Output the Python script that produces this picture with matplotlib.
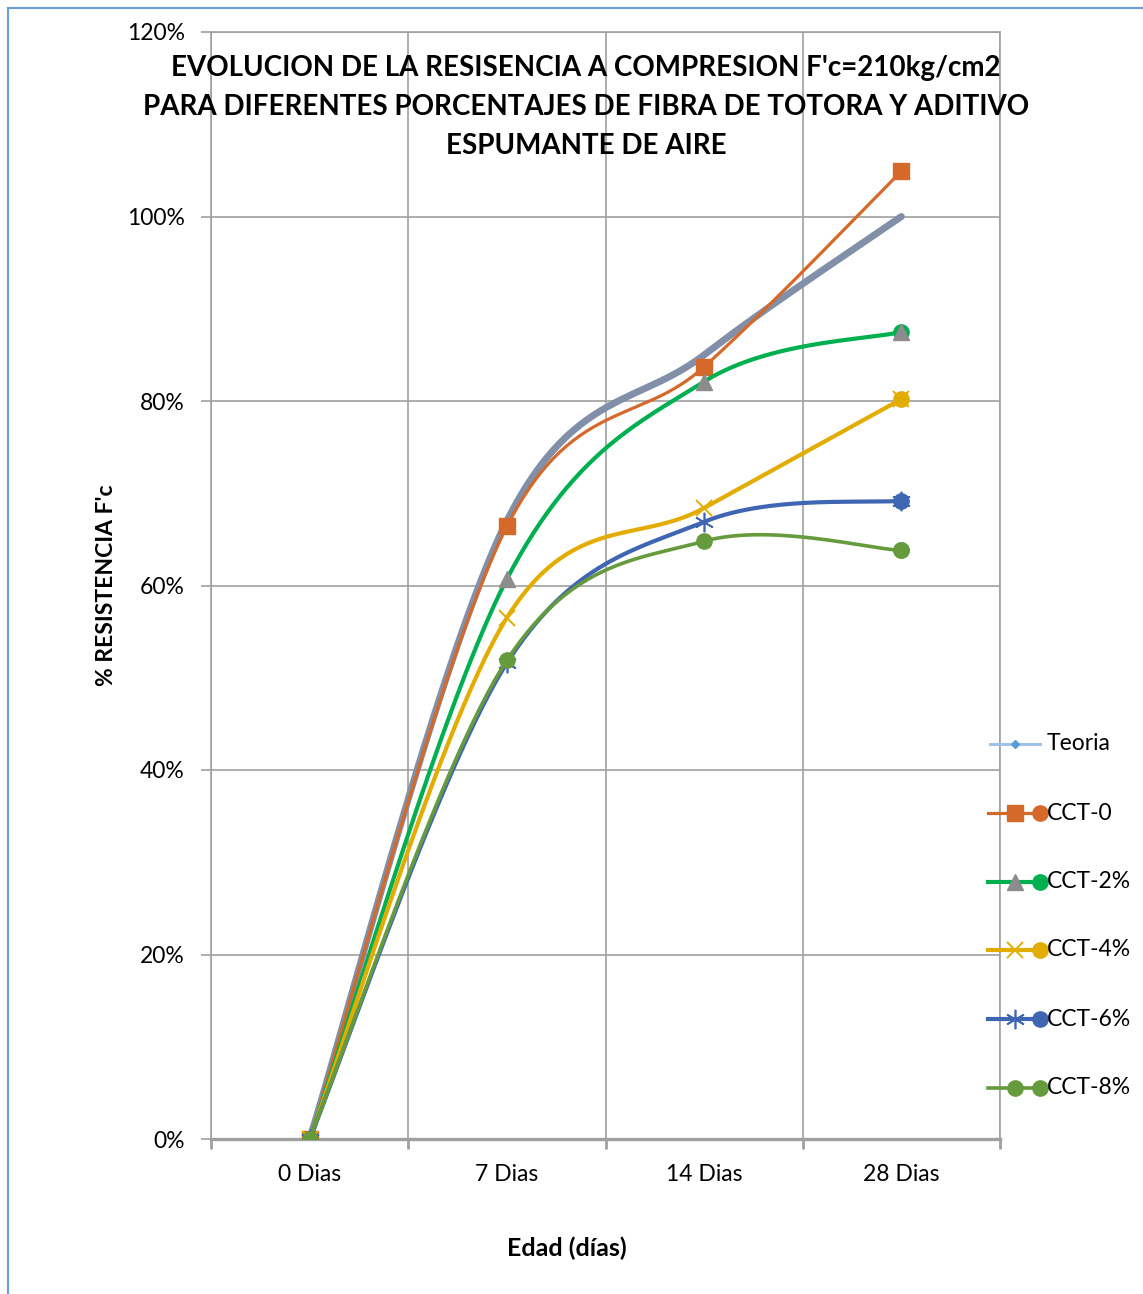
import numpy as np
import matplotlib
matplotlib.use("Agg")
import matplotlib.pyplot as plt
from matplotlib.lines import Line2D
from matplotlib.ticker import FixedLocator, PercentFormatter

plt.rcParams["font.family"] = ["Lato", "DejaVu Sans"]

# edades de ensayo y resistencias relativas (% de f'c)
edades = ["0 Dias", "7 Dias", "14 Dias", "28 Dias"]
teoria = [0.0, 67.0, 85.0, 100.0]
cct_0 = [0.0, 66.4, 83.7, 104.9]
cct_2 = [0.0, 60.7, 82.1, 87.5]
cct_4 = [0.0, 56.5, 68.4, 80.2]
cct_6 = [0.0, 51.6, 66.9, 69.2]
cct_8 = [0.0, 51.9, 64.8, 63.8]

series = [
    # nombre, valores, color, ancho, marcador, color marcador, tamaño
    ("CCT-0", cct_0, "#D4692A", 2.3, "s", "#D4692A", 11),
    ("CCT-2%", cct_2, "#00B050", 3.0, "^", "#8C8C8C", 12),
    ("CCT-4%", cct_4, "#E3AC00", 3.0, "x", "#E3AC00", 12),
    ("CCT-6%", cct_6, "#3F66B3", 3.0, "*", "#3F66B3", 0),
    ("CCT-8%", cct_8, "#659A3D", 2.6, "o", "#659A3D", 11),
]


def suavizar(y, n=60):
    """Curva suavizada tipo Excel (Bezier con tangentes Catmull-Rom)."""
    x = np.arange(len(y), dtype=float)
    y = np.asarray(y, dtype=float)
    px = np.concatenate([[x[0]], x, [x[-1]]])
    py = np.concatenate([[y[0]], y, [y[-1]]])
    t = np.linspace(0, 1, n)[:, None]
    xs, ys = [], []
    for i in range(len(y) - 1):
        p0 = np.array([px[i + 1], py[i + 1]])
        p3 = np.array([px[i + 2], py[i + 2]])
        c1 = p0 + (np.array([px[i + 2], py[i + 2]]) - np.array([px[i], py[i]])) / 6
        c2 = p3 - (np.array([px[i + 3], py[i + 3]]) - np.array([px[i + 1], py[i + 1]])) / 6
        b = ((1 - t) ** 3) * p0 + 3 * ((1 - t) ** 2) * t * c1 + 3 * (1 - t) * t ** 2 * c2 + t ** 3 * p3
        xs.append(b[:, 0]); ys.append(b[:, 1])
    return np.concatenate(xs), np.concatenate(ys)


W, H = 1143, 1294
fig = plt.figure(figsize=(W / 100, H / 100), dpi=100)
ax = fig.add_axes([211 / W, 1 - 1139 / H, (1000 - 211) / W, (1139 - 32) / H])

x = np.arange(len(edades))
sx, sy = suavizar(teoria)
ax.plot(sx, sy, color="#8190A8", lw=5.0, solid_capstyle="round", zorder=3)

for k, (nombre, vals, col, lw, mk, mcol, ms) in enumerate(series):
    z = 4 + k
    sx, sy = suavizar(vals)
    ax.plot(sx, sy, color=col, lw=lw, zorder=z)
    # último punto con círculo del color de la serie
    ax.plot(x[-1], vals[-1], "o", color=col, ms=11, zorder=z)
    if mk == "*":
        ax.plot(x, vals, ls="none", marker=(6, 2, 0), ms=14, mec=mcol, mew=1.2, zorder=z)
    elif mk == "x":
        ax.plot(x, vals, ls="none", marker="x", ms=ms, mec=mcol, mew=1.4, zorder=z)
    else:
        ax.plot(x, vals, ls="none", marker=mk, ms=ms, mfc=mcol, mec=mcol, zorder=z)

ax.set_xlim(-0.5, 3.5)
ax.set_ylim(0, 120)
ax.set_xticks(x)
ax.set_xticklabels(edades, fontsize=16.5)
ax.xaxis.set_minor_locator(FixedLocator([-0.5, 0.5, 1.5, 2.5, 3.5]))
ax.tick_params(axis="x", which="major", length=0, pad=18)
ax.tick_params(axis="x", which="minor", length=7, width=2.0, color="#A0A0A0", direction="out")
ax.set_yticks(np.arange(0, 121, 20))
ax.yaxis.set_major_formatter(PercentFormatter(decimals=0))
ax.tick_params(axis="y", length=7, width=1.2, color="#A0A0A0", labelsize=16.5, pad=12)
ax.grid(True, which="minor", axis="x", color="#A0A0A0", lw=1.2)
ax.grid(True, which="major", axis="y", color="#A0A0A0", lw=1.2)
for s in ["left", "right", "top"]:
    ax.spines[s].set_color("#A0A0A0")
    ax.spines[s].set_linewidth(1.2)
ax.spines["bottom"].set_color("#A0A0A0")
ax.spines["bottom"].set_linewidth(2.4)
ax.set_axisbelow(True)

ax.set_ylabel("% RESISTENCIA F'c", fontsize=16.5, fontweight="bold", labelpad=7)
ax.set_xlabel("Edad (días)", fontsize=18, fontweight="bold", labelpad=37, x=0.451)

fig.text(586 / W, 1 - 107 / H,
         "EVOLUCION DE LA RESISENCIA A COMPRESION F'c=210kg/cm2\n"
         "PARA DIFERENTES PORCENTAJES DE FIBRA DE TOTORA Y ADITIVO\n"
         "ESPUMANTE DE AIRE",
         ha="center", va="center", fontsize=20, fontweight="bold", linespacing=1.6)

# leyenda dibujada a mano
def fx(px):
    return px / W


def fy(py):
    return 1 - py / H


leg_y = [744, 813, 882, 950, 1019, 1088]
fig.add_artist(Line2D([fx(990), fx(1040)], [fy(leg_y[0])] * 2, color="#9DC3E6", lw=2.2))
fig.add_artist(Line2D([fx(1015)], [fy(leg_y[0])], marker="D", ms=4, color="#5B9BD5", ls="none"))
fig.text(fx(1047), fy(leg_y[0]), "Teoria", fontsize=16.5, va="center")
for (nombre, vals, col, lw, mk, mcol, ms), yy in zip(series, leg_y[1:]):
    fig.add_artist(Line2D([fx(988), fx(1040)], [fy(yy)] * 2, color=col, lw=lw))
    fig.add_artist(Line2D([fx(1040)], [fy(yy)], marker="o", ms=11, color=col, ls="none"))
    if mk == "*":
        fig.add_artist(Line2D([fx(1015)], [fy(yy)], marker=(6, 2, 0), ms=14, mec=mcol, mew=1.2, ls="none"))
    elif mk == "x":
        fig.add_artist(Line2D([fx(1015)], [fy(yy)], marker="x", ms=ms, mec=mcol, mew=1.4, ls="none"))
    else:
        fig.add_artist(Line2D([fx(1015)], [fy(yy)], marker=mk, ms=ms, mfc=mcol, mec=mcol, ls="none"))
    fig.text(fx(1047), fy(yy), nombre, fontsize=16.5, va="center")

# marco del área del gráfico
fig.add_artist(Line2D([fx(8), fx(8)], [fy(8), 0], color="#6A9FD8", lw=1.5))
fig.add_artist(Line2D([fx(8), 1], [fy(8), fy(8)], color="#6A9FD8", lw=1.5))

fig.savefig("out.png", dpi=100)
